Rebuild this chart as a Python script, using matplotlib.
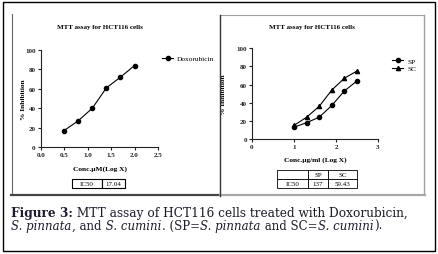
import matplotlib
matplotlib.use("Agg")
import matplotlib.pyplot as plt
from matplotlib.lines import Line2D
from matplotlib.patches import Rectangle

plt.rcParams['font.family'] = ['Liberation Serif', 'DejaVu Serif']

# ---- data ----
dox_x = [0.5, 0.8, 1.1, 1.4, 1.7, 2.0]
dox_y = [17, 27, 40, 61, 72, 84]
ext_x = [1.0, 1.3, 1.6, 1.9, 2.2, 2.5]
sp_y = [13, 18, 24, 37, 53, 64]
sc_y = [15, 24, 36, 54, 67, 75]
left_xticks = [0.0, 0.5, 1.0, 1.5, 2.0, 2.5]
right_xticks = [0, 1, 2, 3]
yticks = [0, 20, 40, 60, 80, 100]
left_table = [["IC50", "17.04"]]
right_table = [["", "SP", "SC"], ["IC50", "137", "59.43"]]

W, H = 438, 255
fig = plt.figure(figsize=(W / 100, H / 100), dpi=100)


def fx(px):
    return px / W


def fy(py):
    return 1 - py / H


def box(l, t, r, b):
    return [fx(l), fy(b), fx(r) - fx(l), fy(t) - fy(b)]


def fline(x0, y0, x1, y1, color, lw):
    fig.add_artist(Line2D([fx(x0), fx(x1)], [fy(y0), fy(y1)],
                          transform=fig.transFigure, color=color, lw=lw))


# frames
fig.add_artist(Rectangle((fx(2.5), fy(251.5)), fx(435) - fx(2.5), fy(2.5) - fy(251.5),
                         transform=fig.transFigure, fill=False, ec='black', lw=1.0))
fline(11.5, 15, 11.5, 195, '#666666', 0.8)
fline(11, 195.5, 219, 195.5, '#444444', 1.6)
fline(219.5, 15.5, 424, 15.5, '#a0a0a0', 0.8)
fline(424, 15.5, 424, 196, '#a0a0a0', 1.0)
fline(219.5, 196, 424.5, 196, '#a8a8a8', 1.6)
fline(219.5, 15.5, 219.5, 196.5, '#333333', 1.0)

tick_fs = 5
lab_fs = 5.3


def style(ax):
    for s in ['top', 'right']:
        ax.spines[s].set_visible(False)
    for s in ['left', 'bottom']:
        ax.spines[s].set_color('#222222')
        ax.spines[s].set_linewidth(0.8)
    ax.tick_params(direction='out', length=2.5, width=0.8, pad=1.2,
                   labelsize=tick_fs, colors='#222222')
    ax.set_ylim(0, 100)
    ax.set_yticks(yticks)
    for lab in ax.get_xticklabels() + ax.get_yticklabels():
        lab.set_fontweight('bold')


# left chart
axL = fig.add_axes(box(40.7, 51, 158, 148))
axL.plot(dox_x, dox_y, color='black', lw=0.8, marker='o', ms=3, label='Doxorubicin')
axL.set_xlim(0, 2.5)
axL.set_xticks(left_xticks)
axL.set_xticklabels([f"{v:.1f}" for v in left_xticks])
style(axL)
axL.set_ylabel('% Inhibition', fontsize=lab_fs, fontweight='bold')
axL.yaxis.set_label_coords((26 - 40.7) / 117.3, 0.5)
axL.legend(loc='center left', bbox_to_anchor=((162 - 40.7) / 117.3, (148 - 59) / 97),
           frameon=False, borderpad=0, borderaxespad=0,
           handlelength=1.5, handletextpad=0.5, prop={'size': 5.3})
fig.text(fx(99.5), fy(27), 'MTT assay for HCT116 cells', fontsize=5, fontweight='bold',
         ha='center', va='center')
fig.text(fx(100), fy(169), 'Conc.µM(Log X)', fontsize=lab_fs, fontweight='bold',
         ha='center', va='center')

# right chart
axR = fig.add_axes(box(252, 49.3, 378, 140))
axR.plot(ext_x, sp_y, color='black', lw=0.8, marker='o', ms=3, label='SP')
axR.plot(ext_x, sc_y, color='black', lw=0.8, marker='^', ms=3, label='SC')
axR.set_xlim(0, 3)
axR.set_xticks(right_xticks)
style(axR)
axR.set_ylabel('% Inhibition', fontsize=lab_fs, fontweight='bold')
axR.yaxis.set_label_coords((226 - 252) / 126, 0.5)
axR.legend(loc='center left', bbox_to_anchor=((392 - 252) / 126, (140 - 65.5) / 90.7),
           frameon=False, borderpad=0, borderaxespad=0, labelspacing=0.15,
           handlelength=1.5, handletextpad=0.6, prop={'size': 5.3})
fig.text(fx(312), fy(27), 'MTT assay for HCT116 cells', fontsize=5, fontweight='bold',
         ha='center', va='center')
fig.text(fx(315), fy(160), 'Conc.µg/ml (Log X)', fontsize=lab_fs, fontweight='bold',
         ha='center', va='center')

# tables
tL = fig.add_axes(box(72, 180, 125, 189))
tL.axis('off')
tabL = tL.table(cellText=left_table, colWidths=[30 / 53, 23 / 53], bbox=[0, 0, 1, 1],
                cellLoc='center')
tabL.auto_set_font_size(False)
tabL.set_fontsize(5)
for c in tabL.get_celld().values():
    c.set_linewidth(0.8)

tR = fig.add_axes(box(277, 171, 357, 189))
tR.axis('off')
tabR = tR.table(cellText=right_table, colWidths=[31 / 80, 20 / 80, 29 / 80],
                bbox=[0, 0, 1, 1], cellLoc='center')
tabR.auto_set_font_size(False)
tabR.set_fontsize(5)
for (r, c), cell in tabR.get_celld().items():
    cell.set_linewidth(0.6)
    if r == 1 and c == 0:
        cell._loc = 'right'

# caption (mixed styles, placed piece by piece)
cap_col = '#1c1c2c'
cap_fs = 8.7
cap_family = ['DejaVu Serif']
renderer = fig.canvas.get_renderer()


def rich_line(x_px, y_px, pieces, fs):
    x = x_px
    for text, weight, style_ in pieces:
        t = fig.text(fx(x), fy(y_px), text, fontsize=fs, color=cap_col,
                     family=cap_family, fontweight=weight, fontstyle=style_,
                     ha='left', va='baseline')
        bb = t.get_window_extent(renderer)
        x = x + bb.width + (0.8 if style_ == 'italic' else 0)


rich_line(11, 216.7, [
    ("Figure 3:", 'bold', 'normal'),
    (" MTT assay of HCT116 cells treated with Doxorubicin,", 'normal', 'normal'),
], cap_fs)
rich_line(11, 229.7, [
    ("S. pinnata", 'normal', 'italic'),
    (", and", 'normal', 'normal'),
    (" S. cumini", 'normal', 'italic'),
    (". (SP=", 'normal', 'normal'),
    ("S. pinnata", 'normal', 'italic'),
    (" and SC=", 'normal', 'normal'),
    ("S. cumini", 'normal', 'italic'),
    (").", 'normal', 'normal'),
], 8.5)

fig.savefig('out.png', dpi=100)
